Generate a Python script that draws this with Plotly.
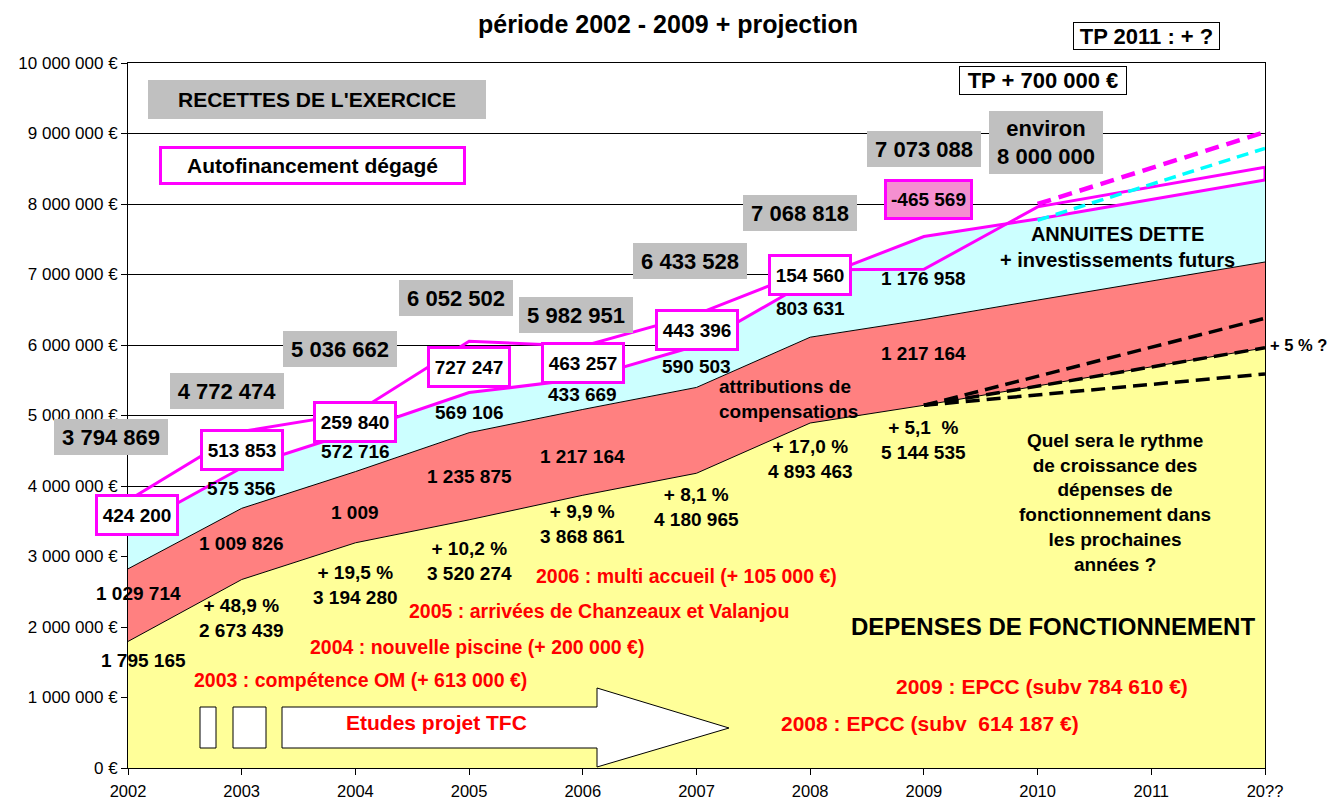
import plotly.graph_objects as go

# ---------------- data ----------------
years = ["2002", "2003", "2004", "2005", "2006", "2007", "2008", "2009", "2010", "2011", "20??"]
depenses = [1795165, 2673439, 3194280, 3520274, 3868861, 4180965, 4893463, 5144535, 5420000, 5690000, 5960000]
attributions = [1029714, 1009826, 1009826, 1235875, 1217164, 1217164, 1217164, 1217164, 1217164, 1217164, 1217164]
annuites = [545790, 575356, 572716, 569106, 433669, 590503, 803631, 1176958, 1150000, 1160000, 1165000]
recettes = [3794869, 4772474, 5036662, 6052502, 5982951, 6433528, 7068818, 7073088, 7960000, 8240000, 8520000]
autofin = [424200, 513853, 259840, 727247, 463257, 443396, 154560, -465569]
croissance = ["", "+ 48,9 %", "+ 19,5 %", "+ 10,2 %", "+ 9,9 %", "+ 8,1 %", "+ 17,0 %", "+ 5,1&nbsp;&nbsp;%"]
attrib_labels = ["1 029 714", "1 009 826", "1 009", "1 235 875", "1 217 164", "", "", "1 217 164"]

proj_x = [8, 10]
recettes_proj = [8000000, 9020000]
annuites_proj = [7770000, 8790000]
dep_proj_x = [7, 10]
dep_proj_hi = [5144535, 6380000]
dep_proj_mid = [5144535, 5960000]
dep_proj_lo = [5144535, 5590000]

y_ticks = [i * 1000000 for i in range(11)]

# ---------------- layout helpers ----------------
# the page body has an 8px margin, so the figure is offset by 8px on screen
OFF = 8
W, H = 1338 - OFF, 802 - OFF
L, R, T, B = 128, 1265, 63, 768          # target plot area in screen pixels
YMAX = 10000000
NX = len(years) - 1
FONT = "Liberation Sans, Arial, sans-serif"


def px2paper_x(px):
    return (px - L) / (R - L)


def px2paper_y(py):
    return (B - py) / (B - T)


def dx(px):
    return px2paper_x(px) * NX


def dy(py):
    return px2paper_y(py) * YMAX


def fmt(v):
    return f"{v:,}".replace(",", " ")


red_top = [d + a for d, a in zip(depenses, attributions)]
cyan_top = [r + c for r, c in zip(red_top, annuites)]
xs = list(range(len(years)))

fig = go.Figure()
fig.add_trace(go.Scatter(x=xs, y=depenses, mode="lines", line=dict(color="black", width=1),
                         fill="tozeroy", fillcolor="#FFFF99", hoverinfo="skip"))
fig.add_trace(go.Scatter(x=xs, y=red_top, mode="lines", line=dict(color="black", width=1),
                         fill="tonexty", fillcolor="#FF8080", hoverinfo="skip"))
fig.add_trace(go.Scatter(x=xs, y=cyan_top, mode="lines", line=dict(color="#FF00FF", width=3),
                         fill="tonexty", fillcolor="#CCFFFF", hoverinfo="skip"))
fig.add_trace(go.Scatter(x=xs, y=recettes, mode="lines", line=dict(color="#FF00FF", width=3),
                         hoverinfo="skip"))
# projections
fig.add_trace(go.Scatter(x=proj_x, y=annuites_proj, mode="lines",
                         line=dict(color="#00FFFF", width=3.5, dash="12px,7px"), hoverinfo="skip"))
fig.add_trace(go.Scatter(x=proj_x, y=recettes_proj, mode="lines",
                         line=dict(color="#FF00FF", width=4.5, dash="14px,8px"), hoverinfo="skip"))
for yy in (dep_proj_hi, dep_proj_mid, dep_proj_lo):
    fig.add_trace(go.Scatter(x=dep_proj_x, y=yy, mode="lines",
                             line=dict(color="black", width=3.5, dash="14px,7px"), hoverinfo="skip"))

# vertical closing segment at the right end
fig.add_shape(type="line", xref="x", yref="y", x0=NX, x1=NX, y0=cyan_top[-1], y1=recettes[-1],
              line=dict(color="#FF00FF", width=3))


def note(x, y, text, size=19, color="black", bg=None, border=None, bw=0, w=None, h=None,
         xanchor="center", align="center", yshift=0, xshift=0, ref="paper"):
    """x, y: screen pixels when ref='paper', data values when ref='data'."""
    if ref == "paper":
        xr, yr, xv, yv = "paper", "paper", px2paper_x(x), px2paper_y(y)
    else:
        xr, yr, xv, yv = "x", "y", x, y
    fig.add_annotation(x=xv, y=yv, xref=xr, yref=yr, text=text, showarrow=False,
                       font=dict(family=FONT, size=size, color=color, weight="bold"),
                       bgcolor=bg, bordercolor=border, borderwidth=bw, borderpad=0,
                       width=w, height=h, xanchor=xanchor, yanchor="middle", align=align,
                       yshift=yshift, xshift=xshift)


# arrow "Etudes projet TFC" and small rectangles
def path(points):
    return "M " + " L ".join(f"{dx(px)},{dy(py)}" for px, py in points) + " Z"


for rect in ([(200, 707), (216, 707), (216, 748), (200, 748)],
             [(233, 707), (266, 707), (266, 748), (233, 748)],
             [(282, 707), (597, 707), (597, 688), (729, 728), (597, 767), (597, 748), (282, 748)]):
    fig.add_shape(type="path", xref="x", yref="y", path=path(rect),
                  fillcolor="white", line=dict(color="black", width=1), layer="above")

# recettes gray labels
rec_label_px = [(111, 437), (227, 391), (340, 349), (456, 298), (576, 315), (690, 261), (800, 213), (924, 149)]
for (px, py), v in zip(rec_label_px, recettes):
    note(px, py, fmt(v), size=22, bg="#C0C0C0", w=114, h=36)
note(1046, 142, "environ<br>8 000 000", size=22, bg="#C0C0C0", w=114, h=63)
note(317, 100, "RECETTES DE L'EXERCICE", size=21, bg="#C0C0C0", w=338, h=39)
note(312, 165, "Autofinancement dégagé", size=21, bg="white", border="#FF00FF", bw=3, w=301, h=33)

# autofinancement boxes
for i, v in enumerate(autofin):
    if v >= 0:
        note(i, (recettes[i] + cyan_top[i]) / 2, fmt(v), size=19, bg="white", border="#FF00FF",
             bw=3, w=78, h=36, xshift=9 if i == 0 else 0, ref="data")
    else:
        note(928, 200, fmt(v), size=19, bg="#F58FD0", border="#FF00FF", bw=3, w=83, h=35)

# annuites labels (middle of band)
for i in range(1, 8):
    note(i, (red_top[i] + cyan_top[i]) / 2, fmt(annuites[i]), size=19, ref="data")

# attributions labels
attr_shift = [12, 0, -5, 0, -4, 0, 0, 9]
for i, t in enumerate(attrib_labels):
    if t:
        note(i, (depenses[i] + red_top[i]) / 2, t, size=19, xshift=10 if i == 0 else 0,
             yshift=attr_shift[i], ref="data")

# depenses labels
dep_shift = [-19, -38, -42, -41, -29, -34, -36, -35]
for i in range(8):
    txt = fmt(depenses[i]) if i == 0 else croissance[i] + "<br>" + fmt(depenses[i])
    note(i, depenses[i], txt, size=19, xshift=15 if i == 0 else 0, yshift=dep_shift[i], ref="data")

note(719, 399, "attributions de<br>compensations", size=19, xanchor="left", align="left")
note(1117, 247, "ANNUITES DETTE<br>+ investissements futurs", size=20)
note(1115, 502, "Quel sera le rythme<br>de croissance des<br>dépenses de<br>fonctionnement dans<br>les prochaines<br>années ?", size=19)
note(1053, 626, "DEPENSES DE FONCTIONNEMENT", size=24)
note(1270, 345, "+ 5 % ?", size=16.5, xanchor="left")
note(1043, 80, "TP + 700 000 €", size=22, bg="white", border="black", bw=1, w=166, h=27)
note(1146, 36, "TP 2011 : + ?", size=22, bg="white", border="black", bw=1, w=145, h=26)

# red comments
RED = "#FF0000"
note(686, 576, "2006 : multi accueil (+ 105 000 €)", size=19.5, color=RED)
note(599, 611, "2005 : arrivées de Chanzeaux et Valanjou", size=19.5, color=RED)
note(477, 647, "2004 : nouvelle piscine (+ 200 000 €)", size=19.5, color=RED)
note(360, 680, "2003 : compétence OM (+ 613 000 €)", size=19.5, color=RED)
note(436, 722, "Etudes projet TFC", size=21, color=RED)
note(1042, 686, "2009 : EPCC (subv 784 610 €)", size=21, color=RED)
note(930, 723, "2008 : EPCC (subv&nbsp; 614 187 €)", size=21, color=RED)

# title
note(668, 24, "période 2002 - 2009 + projection", size=25)

fig.update_layout(
    width=W, height=H,
    margin=dict(l=L - OFF, r=W - (R - OFF), t=T - OFF, b=H - (B - OFF), pad=0, autoexpand=False),
    paper_bgcolor="white", plot_bgcolor="white",
    showlegend=False,
    font=dict(family=FONT, color="black"),
    xaxis=dict(range=[0, NX], tickmode="array", tickvals=xs, ticktext=years, automargin=False,
               showgrid=False, zeroline=False, showline=True, linecolor="black", linewidth=1,
               mirror=True, ticks="outside", ticklen=6, tickcolor="black", ticklabelstandoff=2,
               tickfont=dict(family=FONT, size=16.5, color="black")),
    yaxis=dict(range=[0, YMAX], tickmode="array", tickvals=y_ticks, automargin=False,
               ticktext=[fmt(v) + " €" for v in y_ticks],
               showgrid=True, gridcolor="black", gridwidth=1, zeroline=False,
               showline=True, linecolor="black", linewidth=1, mirror=True,
               ticks="outside", ticklen=6, tickcolor="black",
               tickfont=dict(family=FONT, size=17, color="black")),
)

fig.write_html("out.html")
